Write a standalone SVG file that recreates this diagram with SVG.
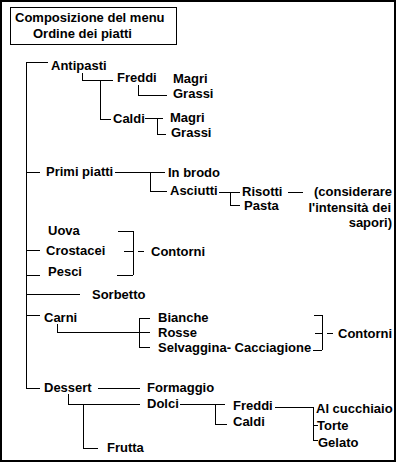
<svg xmlns="http://www.w3.org/2000/svg" width="400" height="463" viewBox="0 0 400 463">
<style>
text{font-family:"Liberation Sans",Arial,sans-serif;font-size:13px;font-weight:bold;fill:#000}
.c{stroke:#000;stroke-width:1;fill:none;shape-rendering:crispEdges}
.e{text-anchor:end}
</style>
<rect x="1" y="1" width="394" height="460" fill="#fff" stroke="#000" stroke-width="2"/>
<g id="title">
<rect x="10.5" y="7.5" width="166" height="37" fill="none" stroke="#000" stroke-width="1"/>
<text x="15" y="22">Composizione del menu</text>
<text x="33" y="38">Ordine dei piatti</text>
</g>
<g id="connectors">
<path class="c" d="M26.5 62V388M26 62.5H48M82.5 73V80M82 80.5H113M100.5 80V119M100 119.5H111M138.5 85V95M138 95.5H167M145 118.5H163M157.5 118V134M157 134.5H166"/>
<path class="c" d="M26 172.5H40M115 172.5H150M150.5 172V191M150 172.5H165M150 191.5H167M219 192.5H230M230.5 192V205M230 192.5H240M230 205.5H240M288 192.5H303"/>
<path class="c" d="M26 250.5H40M26 275.5H40M26 294.5H80M118 231.5H133M133.5 231V275M117 275.5H133M124 251.5H133M138 251.5H144"/>
<path class="c" d="M26 315.5H40M57.5 324V332M57 332.5H139M139.5 318V347M139 318.5H150M139 332.5H150M139 347.5H150M314 315.5H322M322.5 315V350M313 350.5H322M315 333.5H322M327 333.5H333"/>
<path class="c" d="M26 388.5H40M98 388.5H140M68.5 394V404M68 404.5H140M180 404.5H225M83.5 404V448M83 448.5H98M215.5 404V424M215 424.5H227M275 407.5H313M313.5 407V440M313 425.5H318M313 440.5H318"/>
</g>
<g id="antipasti"><text x="51" y="70">Antipasti</text></g>
<g id="antipasti-freddi"><text x="117" y="82">Freddi</text></g>
<g id="antipasti-freddi-magri"><text x="173" y="82.5">Magri</text></g>
<g id="antipasti-freddi-grassi"><text x="173" y="97.5">Grassi</text></g>
<g id="antipasti-caldi"><text x="113" y="123">Caldi</text></g>
<g id="antipasti-caldi-magri"><text x="170" y="122">Magri</text></g>
<g id="antipasti-caldi-grassi"><text x="171" y="137">Grassi</text></g>
<g id="primi"><text x="46" y="176">Primi piatti</text></g>
<g id="in-brodo"><text x="168" y="177">In brodo</text></g>
<g id="asciutti"><text x="170" y="195">Asciutti</text></g>
<g id="risotti"><text x="242" y="196">Risotti</text></g>
<g id="pasta"><text x="244" y="210">Pasta</text></g>
<g id="nota"><text class="e" x="392" y="196">(considerare</text><text class="e" x="391" y="212">l'intensità dei</text><text class="e" x="392" y="227">sapori)</text></g>
<g id="uova"><text x="48" y="235">Uova</text></g>
<g id="crostacei"><text x="46" y="255">Crostacei</text></g>
<g id="pesci"><text x="48" y="276">Pesci</text></g>
<g id="contorni1"><text x="151" y="256">Contorni</text></g>
<g id="sorbetto"><text x="92" y="299">Sorbetto</text></g>
<g id="carni"><text x="44" y="322">Carni</text></g>
<g id="bianche"><text x="158" y="322">Bianche</text></g>
<g id="rosse"><text x="158" y="337">Rosse</text></g>
<g id="selvaggina"><text x="158" y="352">Selvaggina- Cacciagione</text></g>
<g id="contorni2"><text x="338" y="338">Contorni</text></g>
<g id="dessert"><text x="44" y="392">Dessert</text></g>
<g id="formaggio"><text x="147" y="392">Formaggio</text></g>
<g id="dolci"><text x="147" y="408">Dolci</text></g>
<g id="dolci-freddi"><text x="233" y="410">Freddi</text></g>
<g id="dolci-caldi"><text x="233" y="426">Caldi</text></g>
<g id="al-cucchiaio"><text x="316" y="413">Al cucchiaio</text></g>
<g id="torte"><text x="317" y="430">Torte</text></g>
<g id="gelato"><text x="318" y="447">Gelato</text></g>
<g id="frutta"><text x="107" y="452">Frutta</text></g>
</svg>
